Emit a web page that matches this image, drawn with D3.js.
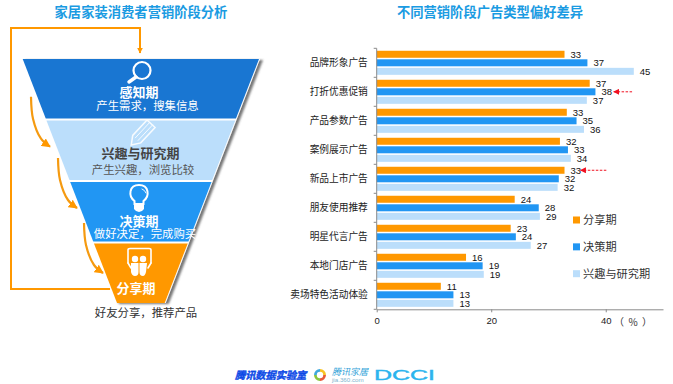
<!DOCTYPE html>
<html>
<head>
<meta charset="utf-8">
<title>家居家装消费者营销阶段分析</title>
<script src="https://d3js.org/d3.v7.min.js"></script>
<style>
  html, body { margin: 0; padding: 0; background: #fff; }
  svg { display: block; }
  text { font-family: "Noto Sans CJK SC", "Liberation Sans", sans-serif; }
  .title { font-size: 13.3px; font-weight: bold; fill: #1a9be2; text-anchor: middle; }
  .axis path, .axis line { stroke: #8a8a8a; }
  .axis text { font-size: 9.5px; fill: #222; }
  .x_axis text, .label { font-family: "Liberation Sans", sans-serif; }
  .label { font-size: 9.5px; fill: #111; }
  .legend_text { font-size: 11.2px; fill: #333; }
  .stage_name { font-size: 13px; font-weight: bold; text-anchor: middle; }
  .stage_desc { font-size: 11.4px; text-anchor: middle; }
</style>
</head>
<body>
<div id="chart"></div>

<script>
  // left funnel
  const stageNames = ["感知期", "兴趣与研究期", "决策期", "分享期"];
  const stageDescs = ["产生需求，搜集信息", "产生兴趣，浏览比较", "做好决定，完成购买", "好友分享，推荐产品"];
  const stageFills = ["#1976d2", "#bbdefb", "#2196f3", "#ff9800"];

  // right bars
  const categories = ["品牌形象广告", "打折优惠促销", "产品参数广告", "案例展示广告", "新品上市广告",
    "朋友使用推荐", "明星代言广告", "本地门店广告", "卖场特色活动体验"];
  const seriesNames = ["分享期", "决策期", "兴趣与研究期"];
  const seriesColors = ["#ff9800", "#2196f3", "#bbdefb"];
  const shareValues = [32.8, 37.2, 33.2, 32.0, 32.8, 24.1, 23.4, 15.6, 11.2];
  const decideValues = [36.8, 38.2, 34.9, 33.4, 31.8, 28.3, 24.3, 18.5, 13.4];
  const interestValues = [44.9, 36.7, 36.2, 33.9, 31.6, 28.5, 26.9, 18.7, 13.4];
  const xTicks = [0, 20, 40];

  const svg = d3.select("#chart").append("svg")
    .attr("width", 673)
    .attr("height", 384);

  const defs = svg.append("defs");

  const shadow = defs.append("filter").attr("id", "funnel_shadow")
    .attr("x", "-10%").attr("y", "-10%").attr("width", "125%").attr("height", "125%");
  shadow.append("feDropShadow")
    .attr("dx", 3).attr("dy", 1).attr("stdDeviation", 1.1)
    .attr("flood-color", "#555").attr("flood-opacity", 0.8);

  const addHead = (id, color, size) => defs.append("marker")
    .attr("id", id)
    .attr("viewBox", "0 0 10 10")
    .attr("refX", 9).attr("refY", 5)
    .attr("markerUnits", "userSpaceOnUse")
    .attr("markerWidth", size).attr("markerHeight", size)
    .attr("orient", "auto")
    .append("path").attr("d", "M0,0L10,5L0,10Z").attr("fill", color);
  addHead("head_loop", "#ff9800", 6);
  addHead("head_orange", "#ff9800", 9);
  addHead("head_red", "#f01020", 6);

  svg.append("text").attr("class", "title").attr("x", 141).attr("y", 17).text("家居家装消费者营销阶段分析");
  svg.append("text").attr("class", "title").attr("x", 490).attr("y", 17).text("不同营销阶段广告类型偏好差异");

  // funnel scales
  const stageY = d3.scaleBand().domain(stageNames).range([59, 303]).paddingInner(0.03);
  const edgeLeft = d3.scaleLinear().domain([59, 303]).range([21.7, 116]);
  const edgeRight = d3.scaleLinear().domain([59, 303]).range([260, 165.7]);

  // loop line from the last stage back to the first
  const loop = d3.path();
  loop.moveTo(110, 289);
  loop.lineTo(11, 289);
  loop.lineTo(11, 28);
  loop.lineTo(140, 28);
  loop.lineTo(140, 53);
  svg.append("path")
    .attr("d", loop.toString())
    .attr("fill", "none")
    .attr("stroke", "#ff9800")
    .attr("stroke-width", 2)
    .attr("marker-end", "url(#head_loop)");

  // shadow sits under the whole outline so the gaps between stages stay white
  svg.append("polygon")
    .attr("points", [[edgeLeft(59), 59], [edgeRight(59), 59], [edgeRight(303), 303], [edgeLeft(303), 303]].join(" "))
    .attr("fill", "#fff")
    .attr("filter", "url(#funnel_shadow)");

  svg.selectAll(".stage")
    .data(stageNames)
    .enter()
    .append("polygon")
    .attr("class", "stage")
    .attr("points", d => {
      const y0 = stageY(d), y1 = y0 + stageY.bandwidth();
      return [[edgeLeft(y0) + 1, y0], [edgeRight(y0) - 1, y0], [edgeRight(y1) - 1, y1], [edgeLeft(y1) + 1, y1]].join(" ");
    })
    .attr("fill", (d, i) => stageFills[i]);

  // arrows between stages
  const arrowEnds = [[50, 146.7], [77, 208], [103, 273]];
  const curve = d3.line().curve(d3.curveCatmullRom);
  arrowEnds.forEach(([xEnd, yEnd]) => {
    const pts = [[xEnd - 19, yEnd - 50], [xEnd - 17, yEnd - 28], [xEnd - 9, yEnd - 8], [xEnd, yEnd]];
    svg.append("path")
      .attr("d", curve(pts))
      .attr("fill", "none")
      .attr("stroke", "#f59a10")
      .attr("stroke-width", 2.2)
      .attr("marker-end", "url(#head_orange)");
  });

  // stage icons
  const icons = svg.append("g").attr("fill", "none").attr("stroke", "#fff").attr("stroke-linecap", "round");

  icons.append("circle").attr("cx", 142).attr("cy", 70.5).attr("r", 8.5).attr("stroke-width", 2.2);
  icons.append("line").attr("x1", 136).attr("y1", 77).attr("x2", 129).attr("y2", 82).attr("stroke-width", 3.4);

  const pencil = icons.append("g").attr("transform", "translate(141.5,134) rotate(43)").attr("opacity", 0.9);
  pencil.append("path").attr("d", "M-5.5,-14H5.5V7L0,15L-5.5,7Z").attr("stroke-width", 1.5);
  pencil.append("path").attr("d", "M-1.9,-14V7M1.9,-14V7").attr("stroke-width", 0.9);

  icons.append("path")
    .attr("d", "M134.5,201C128,196 129,185 139,185C149,185 150,196 143.5,201V204H134.5Z")
    .attr("stroke-width", 2);
  icons.append("path").attr("d", "M134,203H144V209Q142,212 139,212Q136,212 134,209Z")
    .attr("fill", "#fff").attr("stroke", "none");
  icons.append("path").attr("d", "M142,189Q145,190 146,193").attr("stroke-width", 0.9);

  icons.append("path").attr("d", "M128,263V250Q128,248.5 130,248.5H149Q151,248.5 151,250V263")
    .attr("stroke-width", 1.6);
  icons.append("path").attr("d", "M128,263L131,268M151,263L148,268").attr("stroke-width", 1.6);
  icons.append("circle").attr("cx", 135).attr("cy", 259).attr("r", 3.2).attr("fill", "#fff").attr("stroke", "none");
  icons.append("circle").attr("cx", 143).attr("cy", 259).attr("r", 3.2).attr("fill", "#fff").attr("stroke", "none");
  icons.append("path").attr("d", "M131,263H138.5V272Q138.5,276 135,276Q132,276 131,272Z M139.5,263H147L146,272Q145,276 143,276Q139.5,276 139.5,272Z")
    .attr("fill", "#fff").attr("stroke", "none");

  // stage texts
  const nameX = [139, 140.5, 139, 136];
  const nameY = [97, 158, 226, 293];
  const nameFill = ["#fff", "#444", "#fff", "#fff"];
  const descX = [147.5, 143, 145, 146];
  const descY = [110, 174, 238, 317];
  const descFill = ["#fff", "#555", "#fff", "#333"];

  svg.selectAll(".stage_name")
    .data(stageNames)
    .enter()
    .append("text")
    .attr("class", "stage_name")
    .attr("x", (d, i) => nameX[i])
    .attr("y", (d, i) => nameY[i])
    .attr("fill", (d, i) => nameFill[i])
    .text(d => d);

  svg.selectAll(".stage_desc")
    .data(stageDescs)
    .enter()
    .append("text")
    .attr("class", "stage_desc")
    .attr("x", (d, i) => descX[i])
    .attr("y", (d, i) => descY[i])
    .attr("fill", (d, i) => descFill[i])
    .text(d => d);

  // bar chart
  const x = d3.scaleLinear().domain([0, 50]).range([376.7, 663]);

  const y0 = d3.scaleBand()
    .domain(categories)
    .range([48.3, 309.3])
    .paddingInner(0.17)
    .paddingOuter(0.085);

  const y1 = d3.scaleBand()
    .domain(seriesNames)
    .range([0, y0.bandwidth()])
    .paddingInner(0.18);

  const seriesValues = [shareValues, decideValues, interestValues];

  const groups = svg.selectAll(".cat_group")
    .data(categories)
    .enter()
    .append("g")
    .attr("class", "cat_group")
    .attr("transform", d => `translate(0,${y0(d)})`);

  groups.selectAll("rect")
    .data((d, i) => seriesNames.map((s, j) => ({ series: s, value: seriesValues[j][i], color: seriesColors[j] })))
    .enter()
    .append("rect")
    .attr("x", x(0))
    .attr("y", d => y1(d.series))
    .attr("width", d => x(d.value) - x(0))
    .attr("height", y1.bandwidth())
    .attr("fill", d => d.color);

  groups.selectAll(".label")
    .data((d, i) => seriesNames.map((s, j) => ({ series: s, value: seriesValues[j][i] })))
    .enter()
    .append("text")
    .attr("class", "label")
    .attr("x", d => x(d.value) + 6)
    .attr("y", d => y1(d.series) + y1.bandwidth() / 2 + 3.4)
    .text(d => d3.format(".0f")(d.value));

  // axes
  const boundaries = d3.scaleLinear().domain([0, categories.length]).range([48.3, 309.3]);
  const yAxis = svg.append("g").attr("class", "axis").attr("transform", `translate(${x(0)},0)`);
  yAxis.append("line").attr("y1", boundaries(0)).attr("y2", boundaries(categories.length));
  yAxis.selectAll(".tick_line")
    .data(d3.range(categories.length + 1))
    .enter()
    .append("line")
    .attr("x1", -3).attr("x2", 0)
    .attr("y1", d => boundaries(d)).attr("y2", d => boundaries(d));

  svg.selectAll(".cat_label")
    .data(categories)
    .enter()
    .append("text")
    .attr("class", "cat_label")
    .attr("x", 367.8)
    .attr("y", d => y0(d) + y0.bandwidth() / 2 + 3.5)
    .attr("text-anchor", "end")
    .attr("font-size", 9.7)
    .attr("fill", "#222")
    .text(d => d);

  svg.append("g")
    .attr("class", "axis x_axis")
    .attr("transform", "translate(0,309.3)")
    .call(d3.axisBottom(x).tickValues(xTicks).tickSize(3).tickSizeOuter(0).tickPadding(5).tickFormat(d3.format("d")));

  svg.append("text")
    .attr("x", 633)
    .attr("y", 325.5)
    .attr("text-anchor", "middle")
    .attr("font-size", 10)
    .attr("fill", "#333")
    .attr("xml:space", "preserve")
    .style("white-space", "pre")
    .text("（  %  ）");

  // legend
  const legendY = d3.scalePoint().domain(seriesNames).range([220, 273.7]);
  const legend = svg.selectAll(".legend_item")
    .data(seriesNames)
    .enter()
    .append("g")
    .attr("class", "legend_item")
    .attr("transform", d => `translate(573,${legendY(d)})`);
  legend.append("rect")
    .attr("y", -3.5).attr("width", 7).attr("height", 7)
    .attr("fill", (d, i) => seriesColors[i]);
  legend.append("text")
    .attr("class", "legend_text")
    .attr("x", 10)
    .attr("y", 4)
    .text(d => d);

  // red callouts
  const callouts = [
    { cat: categories[1], series: seriesNames[1], from: 44.6, to: 41.4 },
    { cat: categories[4], series: seriesNames[0], from: 40.1, to: 35.6 }
  ];
  svg.selectAll(".callout")
    .data(callouts)
    .enter()
    .append("line")
    .attr("class", "callout")
    .attr("x1", d => x(d.from))
    .attr("x2", d => x(d.to))
    .attr("y1", d => y0(d.cat) + y1(d.series) + y1.bandwidth() / 2)
    .attr("y2", d => y0(d.cat) + y1(d.series) + y1.bandwidth() / 2)
    .attr("stroke", "#f01020")
    .attr("stroke-width", 1)
    .attr("stroke-dasharray", "2.5,1.5")
    .attr("marker-end", "url(#head_red)");

  // footer
  svg.append("text")
    .attr("x", 235).attr("y", 379)
    .attr("font-size", 10.2)
    .attr("font-weight", "bold")
    .attr("font-style", "italic")
    .attr("fill", "#0b49e6")
    .attr("stroke", "#0b49e6")
    .attr("stroke-width", 0.4)
    .text("腾讯数据实验室");

  const logoArc = d3.arc().innerRadius(3.2).outerRadius(6);
  svg.append("g")
    .attr("transform", "translate(320,375)")
    .selectAll("path")
    .data(d3.pie().sort(null)([1, 1, 1, 1]))
    .enter()
    .append("path")
    .attr("d", logoArc)
    .attr("fill", (d, i) => ["#f7c325", "#e85a3a", "#8cc63f", "#3fa9dc"][i]);

  svg.append("text")
    .attr("x", 332).attr("y", 375)
    .attr("font-size", 9)
    .attr("font-style", "italic")
    .attr("fill", "#2f9fd8")
    .text("腾讯家居");
  svg.append("text")
    .attr("x", 332).attr("y", 381.5)
    .attr("font-size", 6.2)
    .attr("fill", "#7fb4cf")
    .style("font-family", '"Liberation Sans", sans-serif')
    .text("jia.360.com");

  svg.append("text")
    .attr("x", 374).attr("y", 380)
    .attr("font-size", 14)
    .attr("fill", "#2cb4ee")
    .attr("stroke", "#2cb4ee")
    .attr("stroke-width", 0.4)
    .attr("textLength", 61)
    .attr("lengthAdjust", "spacingAndGlyphs")
    .style("font-family", '"Liberation Sans", sans-serif')
    .text("DCCI");
</script>
</body>
</html>
